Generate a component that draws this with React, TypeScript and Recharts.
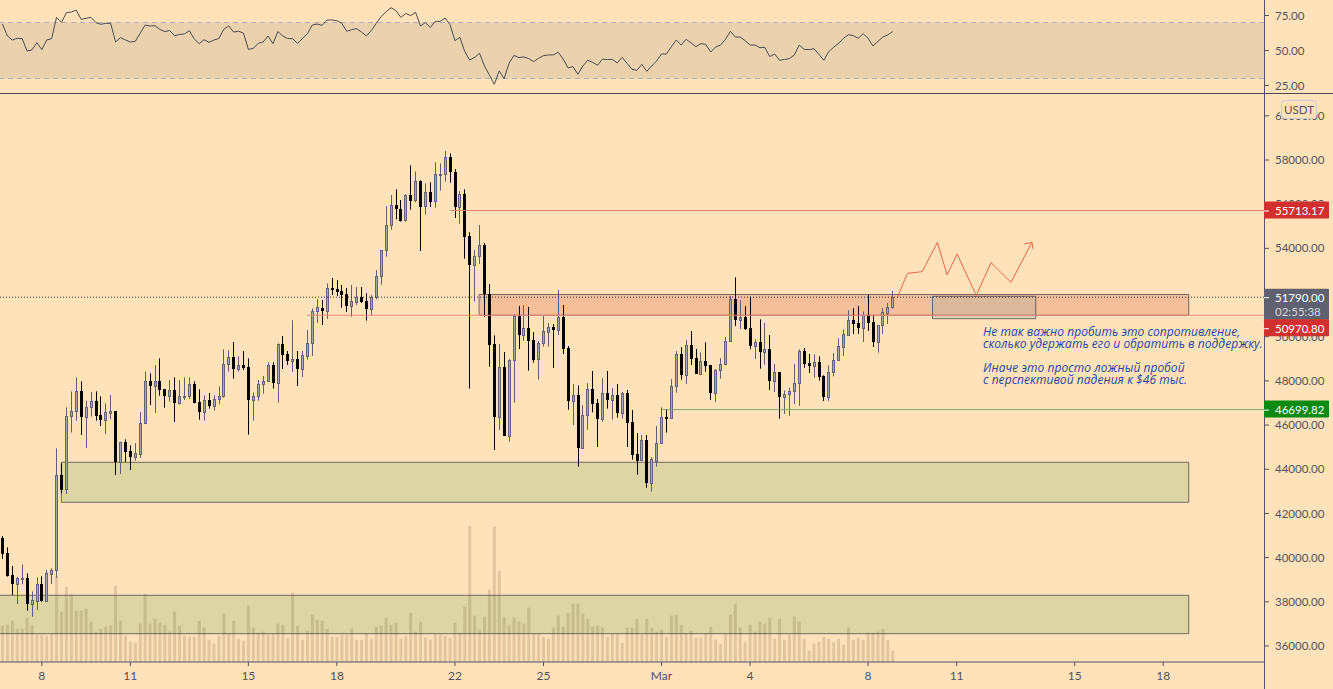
import React from 'react';
import { ComposedChart, Bar, Line, XAxis, YAxis, ReferenceArea, ReferenceLine } from 'recharts';

const BG = '#ffe2ba';
const AXIS = '#4f5366';
const TEXT = '#50535e';
const FONT = 'Lato, "Open Sans", sans-serif';

// 4h candles, first one is 6 Feb 16:00
const opens = [40888,40209,39198,38821,39032,39062,37916,38051,38791,38051,39274,39425,43725,43091,46396,46622,47528,46381,46803,47075,46441,46245,46562,46622,44329,45219,44812,44570,44706,46079,
  47980,47784,47980,47618,47331,47573,47014,47271,47331,47844,47029,46607,47120,46878,47165,47301,48749,49066,48553,48704,
  48614,47150,47301,47844,47980,48704,47920,49655,49202,48915,48976,48553,49142,49700,51149,51284,51179,52190,52145,52054,
  51918,51405,51586,51798,51601,51269,51783,52733,53910,55042,55947,55766,55268,56400,56174,57034,55902,56536,56129,57336,
  57351,58120,57441,55887,56445,54544,53261,53639,54137,51918,49655,46380,48614,45520,48931,50922,50092,50379,49836,48976,
  49700,50228,50440,50319,50877,49474,47105,47346,44977,46441,47618,46984,46290,47437,47150,47346,46561,47437,46124,44675,
  44404,45309,43392,44389,45173,46350,46305,47753,49203,48282,49610,49021,48327,48886,48705,47467,48478,48750,49791,51692,
  50772,50893,50395,49595,49746,49323,49444,48010,48388,47286,47392,47528,47890,49338,48810,48689,48840,48207,47286,48388,
  48931,49550,50063,50742,50606,50410,50998,50651,49776,50515,51089,51330];
const closes = [40164,39183,38821,39062,39062,37900,38067,38791,38051,39289,39425,43725,43061,46396,46622,47528,46381,46803,47075,46426,46245,46592,46622,44314,45219,44797,44555,44721,46079,47980,
  47769,47980,47603,47331,47573,47014,47301,47301,47844,47014,46607,47120,46878,47165,47301,48749,49066,48553,48704,48583,
  47150,47301,47844,47980,48704,47920,49655,49187,48915,48976,48553,49157,49700,51149,51330,51179,52190,52115,52024,51888,
  51405,51601,51798,51586,51269,51783,52733,53910,55042,55947,55766,55238,56400,56159,57034,55887,56536,56113,57351,57366,
  58120,57441,55887,56445,54529,53261,53639,54137,51933,49640,46380,48614,45520,48931,50922,50092,50379,49821,48946,49700,
  50243,50425,50319,50877,49459,47105,47346,44977,46441,47618,46969,46290,47437,47150,47346,46561,47437,46109,44660,44389,
  45309,43392,44449,45173,46350,46290,47753,49202,48282,49610,49006,48327,48886,48674,47467,48478,48750,49791,51692,50772,
  50893,50349,49595,49746,49323,49444,48010,48388,47286,47392,47528,47890,49338,48780,48689,48840,48191,47286,48388,48931,
  49565,50108,50742,50591,50395,50998,50636,49776,50515,51119,51330,51790];
const highs = [40979,40466,39621,39138,39696,39289,38474,39108,39153,39440,39515,44947,44268,46803,47528,48162,47981,47105,47498,47528,47301,46985,47362,46622,45249,45355,45083,45189,46592,48433,
  48342,48719,49021,47618,48040,48161,48040,48161,48161,47980,47618,47346,47452,47346,47753,49428,49383,49761,49112,49353,
  49021,47482,48040,48221,48840,48840,49700,50032,49353,50741,49353,49353,50304,51284,51707,51662,52416,52658,52567,52341,
  52205,52341,52250,52250,51964,51888,53020,53910,55917,56415,56672,56189,56460,57758,57487,57079,56943,56989,57894,57849,
  58407,58301,57592,56596,56672,54725,53925,55057,54242,52386,50062,49670,49308,48991,51018,51390,51435,51345,50213,49806,
  50938,50621,50575,52115,51435,49579,47859,47799,46908,47904,48448,47180,48131,48448,47678,47859,47497,47587,46682,45641,
  45550,45550,44554,45958,46803,46728,48086,49353,49520,49851,50259,49444,49293,49746,48720,48539,49037,49987,51843,52688,
  51662,51391,51813,49882,50787,50621,50078,48765,48388,47573,47694,48765,49429,49489,49218,49203,49112,48252,48705,49263,
  49927,50334,51194,51285,51391,51149,51889,50983,50515,51300,51526,52070];
const lows = [39938,39138,38308,37900,38791,37598,37327,37629,38006,38006,38806,39077,42910,42880,45657,46200,45551,44963,46381,46200,45958,45596,46260,43740,43786,44329,43967,44389,44510,46079,
  46909,46546,47331,46788,47059,46139,46923,47135,47180,46985,46245,46199,46742,46652,46939,47241,48418,48101,48418,48493,
  45566,46199,47105,47422,47965,47648,47014,48538,48719,48402,47769,48176,48961,49127,50621,50530,50802,51888,51843,51315,
  51118,50907,51435,51526,50726,50953,51692,52356,53624,54846,55314,55208,55208,55751,56083,53880,55525,55872,55842,56611,
  57019,56973,55374,55117,53533,47648,51586,53291,50907,48644,44871,45777,45520,45249,47014,49444,49806,48463,48825,48055,
  49549,49549,48583,50077,49217,46698,46003,44117,44932,45792,46577,45007,46154,46742,46245,46335,46290,45007,44434,43755,
  44389,43166,42985,44117,45143,45656,46290,47467,48056,47860,48720,48312,48282,48418,47135,47045,48101,48705,49776,50485,
  50349,50304,49429,48991,48554,48735,47588,47497,46290,46501,46411,46954,46863,48599,48357,48146,48010,47090,47090,48207,
  48916,49127,50032,50123,50123,49761,50259,49534,49278,50123,50576,51270];
const volumes = [3630,3730,4130,3330,3330,4430,3730,2730,2730,2630,2870,8570,5030,7530,6830,5130,5130,5330,4030,3030,3330,3530,3630,7630,4130,2630,2030,1930,3830,6830,
  3830,4330,3930,3730,3030,5030,3630,2630,2530,2530,4130,3430,2230,1830,2630,4830,2830,4130,2330,2130,
  5630,3430,2930,3030,2730,2830,3830,3730,2430,6930,3630,2230,3130,4730,4230,4130,3330,2530,2530,2730,
  2730,3330,2230,2230,2830,2330,3530,3630,4430,3730,3930,2330,2630,4930,3030,4030,2430,2230,2830,2730,
  2630,2430,3930,2930,5530,13630,4630,3230,4530,7230,13530,9130,4530,3730,4430,4030,3830,5430,2830,2830,
  2530,2330,3430,4630,3530,4930,5830,5830,4830,4330,3530,3630,3430,2530,2830,2830,1930,3430,3430,4330,
  2730,4330,3430,3030,3230,2530,4630,4730,3730,2830,3130,2430,2430,2830,3530,2230,1830,2830,4730,5830,
  3430,2030,3730,3030,4030,3830,4430,2330,4330,2230,2730,4530,4030,2330,1130,1830,2030,2530,2330,2030,
  2330,1730,3430,2230,2430,2230,2930,2930,3030,3330,2230,1130];
const rsi = [68.9,60.4,57.5,58.7,58.5,49.6,50.4,55.6,50.6,57.5,58.5,73.7,70.1,77.0,77.5,78.9,72.3,73.0,73.7,69.9,68.7,69.4,69.4,56.1,59.2,57.5,56.1,56.5,62.3,68.2,
  67.5,67.7,65.1,63.5,64.2,60.6,61.5,61.8,64.2,58.2,54.9,57.7,55.8,57.5,58.5,65.1,67.5,63.2,63.7,62.5,
  50.8,51.5,55.1,56.1,60.4,54.9,63.5,60.4,58.5,58.5,55.1,58.5,62.0,68.2,68.9,68.0,71.8,71.8,71.3,69.4,
  63.7,64.9,65.6,63.2,60.4,64.2,69.4,74.2,77.7,80.6,78.5,73.7,76.5,74.9,77.3,67.5,69.9,66.5,70.8,70.8,
  73.2,68.5,57.0,59.4,49.2,43.2,45.1,48.0,38.9,32.5,25.8,35.4,29.9,40.8,46.5,44.9,45.4,44.2,42.0,44.4,
  46.3,46.8,46.8,48.7,43.9,37.5,38.5,33.0,38.9,43.0,41.5,39.4,43.9,43.5,43.7,41.1,45.1,40.8,36.5,35.8,
  40.1,35.1,38.9,42.5,47.5,47.5,52.7,57.5,53.9,58.0,55.4,52.7,54.9,54.4,48.9,52.5,53.9,58.0,63.7,59.6,
  59.6,57.0,53.9,53.9,52.0,52.3,45.6,47.5,43.0,43.5,44.2,46.8,53.9,50.8,50.6,51.3,47.3,43.0,49.2,52.3,
  55.1,58.7,61.3,60.6,58.7,62.0,58.7,53.2,56.5,59.6,61.1,63.5];

const priceTicks = [36000,38000,40000,42000,44000,46000,48000,50000,52000,54000,56000,58000,60000];
const rsiTicks = [25, 50, 75];
const dayTicks = [8, 26, 50, 68, 92, 110, 134, 152, 176, 194, 218, 236];
const dayLabels = ['8', '11', '15', '18', '22', '25', 'Mar', '4', '8', '11', '15', '18'];

const pathT = [181.96,184,187,190.1,192.06,194.1,198,201,205.07,209.3];
const pathP = [51783,52870,52945,54273,52794,53745,51874,53352,52462,54273];
const headT = [207.8,209.3,209.55];
const headP = [54198,54273,53971];

const noteLines = [
  'Не так важно пробить это сопротивление,',
  'сколько удержать его и обратить в поддержку.',
  '',
  'Иначе это просто ложный пробой',
  'с перспективой падения к $46 тыс.',
];

const candles = opens.map((o, i) => ({ t: i, o, c: closes[i], h: highs[i], l: lows[i], v: volumes[i], rsi: rsi[i] }));
const forecast = pathT.map((t, i) => ({ t, p: pathP[i] }));
const arrowHead = headT.map((t, i) => ({ t, p: headP[i] }));

const X_DOMAIN: [number, number] = [-0.5, 256.5];
const PRICE_DOMAIN: [number, number] = [35274, 60988];

function Candle(props: any) {
  const { x, y, width, height, payload } = props;
  const { o, c, h, l } = payload;
  const k = height / (h - l);
  const cx = Math.floor(x + width / 2 + 0.2) + 0.5;
  const top = Math.round(y + (h - Math.max(o, c)) * k);
  const bot = Math.round(y + (h - Math.min(o, c)) * k);
  const up = c >= o;
  const wick = up ? '#5d6072' : '#000';
  return (
    <g>
      <line x1={cx} x2={cx} y1={y} y2={y + height} stroke={wick} />
      {up ? (
        <rect x={cx - 1} y={top + 0.5} width={2} height={Math.max(bot - top, 1)} fill="#a5a6ae" stroke="#62657a" />
      ) : (
        <rect x={cx - 1.5} y={top} width={3} height={Math.max(bot - top, 1)} fill="#000" />
      )}
    </g>
  );
}

function priceTag(text: string, color: string, dy = 0, height = 17, sub?: string, top?: number) {
  return (props: any) => {
    const vb = props.viewBox;
    const left = vb.x + vb.width;
    const cy = vb.y + dy;
    return (
      <g fontFamily={FONT} fontSize={11.5}>
        <rect x={left} y={top !== undefined ? cy + top : cy - height / 2 - 0.5} width={65} height={height} fill={color} rx={1} />
        <line x1={left} x2={left + 5} y1={cy + 0.5} y2={cy + 0.5} stroke="#fff" />
        <text x={left + 11} y={cy + 4.5} fill="#fff">{text}</text>
        {sub && <text x={left + 11} y={cy + 19} fill="#d6d6dc">{sub}</text>}
      </g>
    );
  };
}

export default function App() {
  return (
    <div style={{ position: 'absolute', left: 0, top: 0, width: 1333, height: 689, background: BG, overflow: 'hidden' }}>
      <div style={{ position: 'absolute', left: 0, top: 0 }}>
        <ComposedChart width={1333} height={93} data={candles} margin={{ top: 0, right: 0, bottom: 0, left: 0 }}>
          <XAxis dataKey="t" type="number" domain={X_DOMAIN} allowDataOverflow hide />
          <YAxis
            orientation="right"
            width={69}
            domain={[19.6, 86.1]}
            allowDataOverflow
            ticks={rsiTicks}
            tickFormatter={(v: number) => v.toFixed(2)}
            tick={{ fill: TEXT, fontSize: 11.5, fontFamily: FONT }}
            tickLine={{ stroke: AXIS }}
            tickSize={5}
            tickMargin={6}
            axisLine={false}
          />
          <ReferenceArea y1={30} y2={70} fill="#ead2ae" fillOpacity={1} stroke="none" />
          <ReferenceLine y={70} stroke="#aeb1bc" strokeDasharray="5 4" />
          <ReferenceLine y={30} stroke="#aeb1bc" strokeDasharray="5 4" />
          <Line dataKey="rsi" stroke="#4c4c50" strokeWidth={1} dot={false} activeDot={false} isAnimationActive={false} />
        </ComposedChart>
      </div>

      <div style={{ position: 'absolute', left: 0, top: 93, width: 1333, height: 1, background: '#4a4a55' }} />
      <div style={{ position: 'absolute', left: 1264, top: 0, width: 1, height: 689, background: AXIS }} />

      <div style={{ position: 'absolute', left: 0, top: 94 }}>
        <ComposedChart width={1333} height={595} data={candles} margin={{ top: 0, right: 0, bottom: 0, left: 0 }}>
          <XAxis
            dataKey="t"
            type="number"
            domain={X_DOMAIN}
            allowDataOverflow
            height={27}
            ticks={dayTicks}
            interval={0}
            tickFormatter={(v: number) => dayLabels[dayTicks.indexOf(v)]}
            tick={{ fill: TEXT, fontSize: 12, fontFamily: FONT }}
            tickLine={{ stroke: AXIS }}
            tickSize={4}
            tickMargin={5}
            axisLine={{ stroke: AXIS }}
          />
          <XAxis xAxisId="vol" dataKey="t" type="number" domain={X_DOMAIN} allowDataOverflow hide />
          <YAxis
            orientation="right"
            width={69}
            domain={PRICE_DOMAIN}
            allowDataOverflow
            ticks={priceTicks}
            interval={0}
            tickFormatter={(v: number) => v.toFixed(2)}
            tick={{ fill: TEXT, fontSize: 11.5, fontFamily: FONT }}
            tickLine={{ stroke: AXIS }}
            tickSize={5}
            tickMargin={6}
            axisLine={false}
          />
          <YAxis yAxisId="vol" domain={[0, 56800]} allowDataOverflow hide />

          <Bar xAxisId="vol" yAxisId="vol" dataKey="v" barSize={3} fill="rgba(100,80,50,0.19)" isAnimationActive={false} />
          <Bar dataKey={(d: any) => [d.l, d.h]} barSize={3} shape={<Candle />} isAnimationActive={false} />

          <ReferenceArea x1={96.9} x2={241.2} y1={50970.8} y2={51911} fill="rgba(218,109,76,0.3)" fillOpacity={1} stroke="rgba(60,60,70,0.7)" />
          <ReferenceArea x1={11.96} x2={241.2} y1={42504} y2={44315} fill="rgba(142,183,113,0.3)" fillOpacity={1} stroke="rgba(60,60,70,0.7)" />
          <ReferenceArea x1={-5} x2={241.2} y1={36556} y2={38294} ifOverflow="hidden" fill="rgba(142,183,113,0.3)" fillOpacity={1} stroke="rgba(60,60,70,0.7)" />
          <ReferenceArea x1={189.1} x2={210.1} y1={50816} y2={51830} fill="rgba(140,160,170,0.25)" fillOpacity={1} stroke="rgba(60,60,70,0.7)" />

          <Line data={forecast} dataKey="p" stroke="#e8634c" strokeWidth={1} dot={false} activeDot={false} isAnimationActive={false} />
          <Line data={arrowHead} dataKey="p" stroke="#e8634c" strokeWidth={1} dot={false} activeDot={false} isAnimationActive={false} />
        </ComposedChart>
      </div>

      {/* price lines and their tags sit in their own layer so the tags cover the axis ticks */}
      <div style={{ position: 'absolute', left: 0, top: 94 }}>
        <ComposedChart width={1333} height={595} data={candles} margin={{ top: 0, right: 69, bottom: 27, left: 0 }}>
          <XAxis dataKey="t" type="number" domain={X_DOMAIN} allowDataOverflow hide />
          <YAxis domain={PRICE_DOMAIN} allowDataOverflow hide />
          <ReferenceLine segment={[{ x: 91, y: 55713.17 }, { x: 256.5, y: 55713.17 }]} stroke="#e2806f" label={priceTag('55713.17', '#d32f2f')} />
          <ReferenceLine segment={[{ x: 134.1, y: 46699.82 }, { x: 256.5, y: 46699.82 }]} stroke="#7cab6c" label={priceTag('46699.82', '#098a10')} />
          <ReferenceLine segment={[{ x: -0.5, y: 51790 }, { x: 256.5, y: 51790 }]} stroke="#333" strokeDasharray="1 2" label={priceTag('51790.00', '#5f6170', 0, 31, '02:55:38', -8.5)} />
          <ReferenceLine segment={[{ x: 61.9, y: 50970.8 }, { x: 256.5, y: 50970.8 }]} stroke="#f08a7e" label={priceTag('50970.80', '#d32f2f', 13)} />
        </ComposedChart>
      </div>

      <div style={{ position: 'absolute', left: 983, top: 326, fontFamily: '"Open Sans", sans-serif', fontStyle: 'italic', fontSize: 12, letterSpacing: 0.05, lineHeight: '12px', color: '#1a4aa5', whiteSpace: 'pre' }}>
        {noteLines.map((s, i) => (
          <div key={i} style={{ height: 12 }}>{s}</div>
        ))}
      </div>

      <div style={{ position: 'absolute', left: 1281, top: 100, width: 34, height: 17, border: '1px solid #c9cdd8', borderRadius: 4, background: BG, color: TEXT, fontFamily: FONT, fontSize: 11.5, lineHeight: '17px', textAlign: 'center' }}>
        USDT
      </div>
    </div>
  );
}
